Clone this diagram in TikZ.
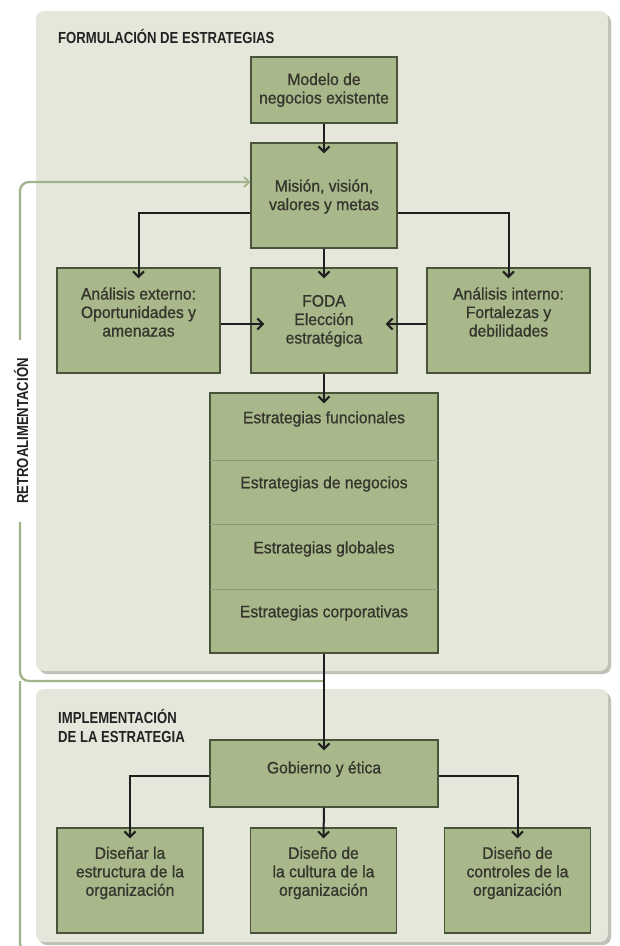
\documentclass[tikz,border=0pt]{standalone}
\usepackage{fontspec}
\setmainfont{Liberation Sans}
\newfontfamily\condfont{Liberation Sans}[FakeStretch=0.82]
\newfontfamily\boxfont{Liberation Sans}[FakeBold=0.9,FakeStretch=0.95]
\usetikzlibrary{arrows.meta,calc}
\definecolor{panelbg}{HTML}{E4E7DA}
\definecolor{shadowc}{HTML}{BEC1B7}
\definecolor{boxfill}{HTML}{A9B88B}
\definecolor{boxline}{HTML}{47543A}
\definecolor{txtc}{HTML}{35352D}
\definecolor{titlec}{HTML}{222222}
\definecolor{fbgreen}{HTML}{A2B389}
\definecolor{divc}{HTML}{8E9B76}
\tikzset{
  panel/.style={fill=panelbg, draw=none, rounded corners=8pt},
  shadowbox/.style={fill=shadowc, draw=none, rounded corners=8pt},
  box/.style={draw=boxline, fill=boxfill, line width=1.4pt, inner sep=0pt},
  txt/.style={text=txtc, font=\boxfont\fontsize{16.5}{18.5}\selectfont, align=center, inner sep=0pt},
  ttl/.style={text=titlec, font=\condfont\bfseries\fontsize{16}{19}\selectfont, align=left, inner sep=0pt},
  arr/.style={-{Straight Barb[length=5.5pt,width=11pt,line width=2pt]}, line width=2pt, draw=black!88},
  fb/.style={draw=fbgreen, line width=2.3pt},
  divline/.style={draw=divc, line width=0.7pt}
}
\begin{document}
\begin{tikzpicture}[x=1pt,y=-1pt]
\useasboundingbox (0,0) rectangle (620,946);
\fill[white] (0,0) rectangle (620,946);
% panels
\fill[shadowbox] (39,14) rectangle (611,674);
\fill[panel] (36,11) rectangle (608,671);
\fill[shadowbox] (39,692) rectangle (611,945);
\fill[panel] (36,689) rectangle (608,942);
% titles
\node[ttl, anchor=base west] (t1) at (58,43) {FORMULACIÓN DE ESTRATEGIAS};
\node[ttl, anchor=base west] (t2) at (58,742.5) {IMPLEMENTACIÓN\\DE LA ESTRATEGIA};
% boxes
\node[box, minimum width=146pt, minimum height=66pt] (modelo) at (324,90) {};
\node[box, minimum width=146pt, minimum height=105pt] (mision) at (324,195.5) {};
\node[box, minimum width=163pt, minimum height=105pt] (ext) at (138.5,320.5) {};
\node[box, minimum width=146pt, minimum height=105pt] (foda) at (324,320.5) {};
\node[box, minimum width=163pt, minimum height=105pt] (int) at (508.5,320.5) {};
\node[box, minimum width=228pt, minimum height=260pt] (strat) at (324,523) {};
\node[box, minimum width=228pt, minimum height=67pt] (gob) at (324,773.5) {};
\node[box, minimum width=146pt, minimum height=105pt] (b1) at (130,880.5) {};
\node[box, minimum width=146pt, minimum height=105pt] (b2) at (323.5,880.5) {};
\node[box, minimum width=146pt, minimum height=105pt] (b3) at (517.5,880.5) {};
% strategy dividers
\draw[divline] ($(strat.west)+(0.7,-63)$) -- ($(strat.east)+(-0.7,-63)$);
\draw[divline] ($(strat.west)+(0.7,1)$) -- ($(strat.east)+(-0.7,1)$);
\draw[divline] ($(strat.west)+(0.7,66)$) -- ($(strat.east)+(-0.7,66)$);
% texts
\node[txt] (modelo-t) at (324,90) {Modelo de\\negocios existente};
\node[txt] (mision-t) at (324,196.5) {Misión, visión,\\valores y metas};
\node[txt] (ext-t) at (138.5,312) {Análisis externo:\\Oportunidades y\\amenazas};
\node[txt] (foda-t) at (324,321) {FODA\\Elección\\estratégica};
\node[txt] (int-t) at (508.5,312) {Análisis interno:\\Fortalezas y\\debilidades};
\node[txt] (s1) at (324,419) {Estrategias funcionales};
\node[txt] (s2) at (324,484) {Estrategias de negocios};
\node[txt] (s3) at (324,549) {Estrategias globales};
\node[txt] (s4) at (324,613) {Estrategias corporativas};
\node[txt] (gob-t) at (324,769) {Gobierno y ética};
\node[txt] (b1-t) at (130,873) {Diseñar la\\estructura de la\\organización};
\node[txt] (b2-t) at (323.5,873) {Diseño de\\la cultura de la\\organización};
\node[txt] (b3-t) at (517.5,873) {Diseño de\\controles de la\\organización};
% connectors
\draw[arr] (modelo.south) -- ($(mision.north)+(0,11)$);
\draw[arr] ($(mision.west)+(0,17.5)$) -| ($(ext.north)+(0,11)$);
\draw[arr] ($(mision.east)+(0,17.5)$) -| ($(int.north)+(0,11)$);
\draw[arr] (mision.south) -- ($(foda.north)+(0,11)$);
\draw[arr] ($(ext.east)+(0,3.5)$) -- ($(foda.west)+(14,3.5)$);
\draw[arr] ($(int.west)+(0,3.5)$) -- ($(foda.east)+(-12,3.5)$);
\draw[arr] (foda.south) -- ($(strat.north)+(0,11)$);
\draw[arr] ($(gob.west)+(0,2.5)$) -| ($(b1.north)+(0,11)$);
\draw[arr] ($(gob.east)+(0,2.5)$) -| ($(b3.north)+(0,11)$);
\draw[arr] (gob.south) -- ($(b2.north)+(0,11)$);
% feedback loop
\coordinate (fbj) at (324,681);
\coordinate (fbc) at (20,681);
\draw[fb, rounded corners=9pt] (fbc) -- (20,952) -- (46,952);
\draw[fb, rounded corners=9pt, -{Straight Barb[length=5pt,width=10pt,line width=1.7pt]}] (fbj) -- (fbc) -- (20,182) -- ($(mision.west)+(0,-13.5)$);
\draw[arr] (strat.south) -- ($(gob.north)+(0,11)$);
\node[ttl, rotate=90, fill=white, inner xsep=18pt, inner ysep=2pt] (retro) at (21,431) {RETROALIMENTACIÓN};
\end{tikzpicture}
\end{document}
